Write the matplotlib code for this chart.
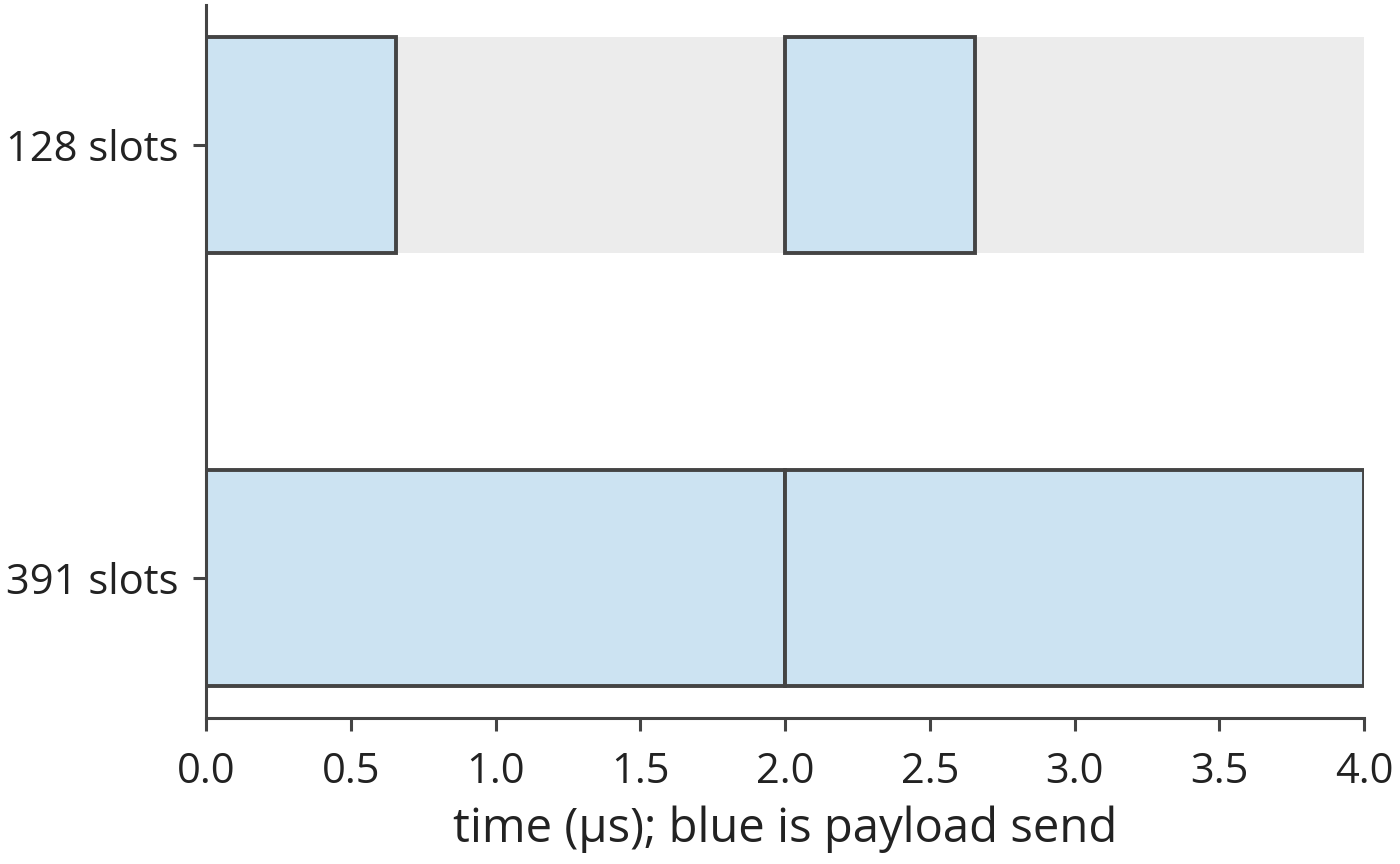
import matplotlib.pyplot as plt

# rows, bottom to top
rows = ["391 slots", "128 slots"]
cycle = 2.0          # µs between sends
total = 4.0          # µs shown
# payload send durations per row (µs), one block per cycle
send = [2.0, 2 * 128 / 391]
starts = [0.0, 2.0]

plt.rcParams['font.family'] = ['Open Sans', 'DejaVu Sans']
plt.rcParams['text.color'] = '#222222'
plt.rcParams['xtick.color'] = '#444444'
plt.rcParams['ytick.color'] = '#444444'
plt.rcParams['xtick.labelcolor'] = '#222222'
plt.rcParams['ytick.labelcolor'] = '#222222'

fig = plt.figure(figsize=(14, 8.64), dpi=100)
ax = fig.add_axes([206 / 1400, 1 - 718 / 864, (1364 - 206) / 1400, (718 - 5) / 864])

blue = '#cce3f2'
edge = '#444444'
fs = 30

# grey background where the link is idle
for i, row in enumerate(rows):
    if send[i] < cycle:
        ax.barh(i, total, height=0.5, left=0, color='#ececec', linewidth=0)

for i, row in enumerate(rows):
    for s in starts:
        ax.barh(i, send[i], height=0.5, left=s, color=blue,
                edgecolor=edge, linewidth=2.8)

ax.set_yticks(range(len(rows)))
ax.set_yticklabels(rows, fontsize=fs)
ax.set_xlim(0, total)
ax.set_xticks([0, 0.5, 1.0, 1.5, 2.0, 2.5, 3.0, 3.5, 4.0])
ax.set_xticklabels(["0.0", "0.5", "1.0", "1.5", "2.0", "2.5", "3.0", "3.5", "4.0"], fontsize=fs)
ax.set_xlabel("time (µs); blue is payload send", fontsize=34, color='#222222', labelpad=9)

for side in ['top', 'right']:
    ax.spines[side].set_visible(False)
for side in ['left', 'bottom']:
    ax.spines[side].set_color(edge)
    ax.spines[side].set_linewidth(2.2)
ax.tick_params(axis='both', width=2.2, length=9.5)
ax.tick_params(axis='x', pad=14)
ax.tick_params(axis='y', pad=10)

fig.savefig('out.png', dpi=100)
